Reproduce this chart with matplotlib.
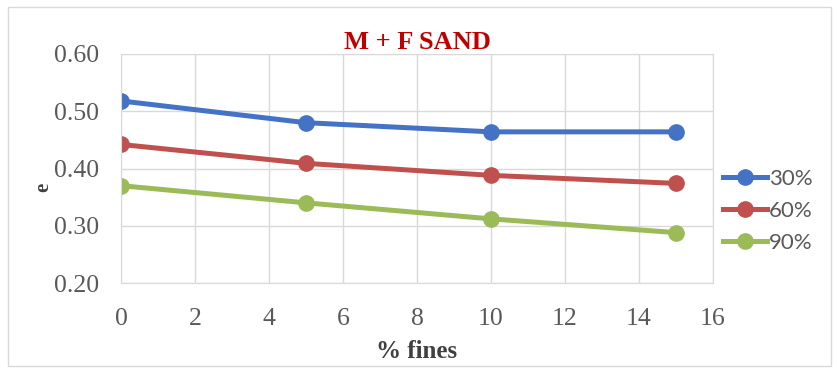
import matplotlib
matplotlib.use("Agg")
import matplotlib.pyplot as plt
from matplotlib.patches import Rectangle

fines = [0, 5, 10, 15]
e_30 = [0.518, 0.480, 0.464, 0.464]
e_60 = [0.442, 0.409, 0.388, 0.374]
e_90 = [0.370, 0.340, 0.312, 0.288]
labels = ["30%", "60%", "90%"]
colors = ["#4472C4", "#C0504D", "#9BBB59"]
xticks = [0, 2, 4, 6, 8, 10, 12, 14, 16]
yticks = [0.20, 0.30, 0.40, 0.50, 0.60]

plt.rcParams['font.family'] = ['Liberation Serif', 'DejaVu Serif']

fig = plt.figure(figsize=(8.38, 3.68), dpi=100)
fig.patches.append(Rectangle((0.010, 0.005), 0.982, 0.975, transform=fig.transFigure,
                             fill=False, edgecolor="#D9D9D9", linewidth=1.0))
ax = fig.add_axes([121/838, 1 - 283/368, (713-121)/838, (283-54)/368])

for ys, lab, c in zip([e_30, e_60, e_90], labels, colors):
    ax.plot(fines, ys, color=c, linewidth=3.6, marker="o", markersize=11, label=lab)

ax.set_xlim(0, 16)
ax.set_ylim(0.20, 0.60)
ax.set_xticks(xticks)
ax.set_yticks(yticks)
ax.set_yticklabels([f"{v:.2f}" for v in yticks])
ax.grid(True, color="#D9D9D9", linewidth=1.0)
ax.set_axisbelow(True)
for s in ax.spines.values():
    s.set_color("#D9D9D9")
ax.tick_params(length=0, labelsize=18.5, colors="#595959")
ax.tick_params(axis="x", pad=18)
ax.tick_params(axis="y", pad=16)

ax.set_title("M + F SAND", fontsize=19, fontweight="bold", color="#C00000", pad=2)
ax.set_xlabel("% fines", fontsize=18, fontweight="bold", color="#404040")
ax.xaxis.set_label_coords(0.5, (283 - 352) / 229, transform=ax.transAxes)
ax.xaxis.label.set_va("center")
ax.set_ylabel("e", fontsize=15, fontweight="bold", color="#404040")
ax.yaxis.set_label_coords((43 - 121) / 592, (283 - 187) / 229, transform=ax.transAxes)
ax.yaxis.label.set_va("center")

ax.legend(loc="center left", bbox_to_anchor=(723/838, 1 - 211/368), bbox_transform=fig.transFigure,
          frameon=False, handlelength=2.0, handletextpad=0.05,
          labelspacing=0.55, borderpad=0, borderaxespad=0, labelcolor="#595959",
          prop={"family": "Lato", "size": 16})

fig.savefig("out.png", dpi=100)
